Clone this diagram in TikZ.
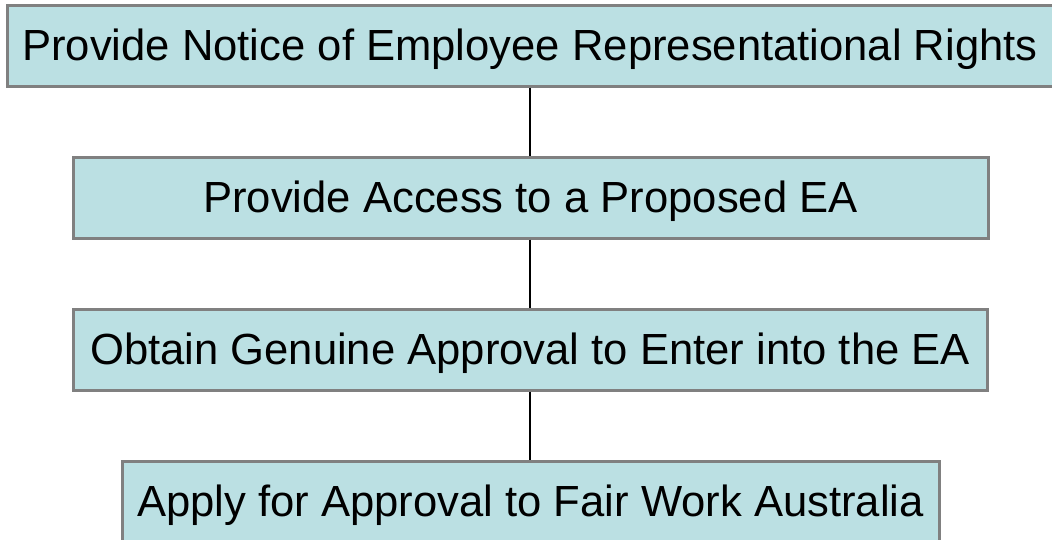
\documentclass[tikz,border=0pt]{standalone}
\usepackage{fontspec}
\setmainfont{Liberation Sans}
\definecolor{stepfill}{RGB}{187,224,227}
\definecolor{stepedge}{RGB}{128,128,128}
\begin{document}
\begin{tikzpicture}[x=1pt,y=-1pt,
  stepbox/.style={draw=stepedge,line width=3pt,fill=stepfill,
    inner sep=0pt,minimum height=81pt,text height=29pt,text depth=0pt,
    font=\fontsize{43.6}{50}\selectfont,text=black},
  link/.style={draw=black,line width=2.5pt}]
  \useasboundingbox (0,0) rectangle (1052,539);
  \clip (0,0) rectangle (1052,539);
  \node[stepbox,minimum width=1046pt] (s1) at (530,45.5)
    {Provide Notice of Employee Representational Rights};
  \node[stepbox,minimum width=915pt] (s2) at (530.5,197.5)
    {Provide Access to a Proposed EA};
  \node[stepbox,minimum width=914pt] (s3) at (530,349.5)
    {Obtain Genuine Approval to Enter into the EA};
  \node[stepbox,minimum width=817pt] (s4) at (530.5,501.5)
    {Apply for Approval to Fair Work Australia};
  \draw[link] (s1.south -| 530,0) -- (s2.north -| 530,0);
  \draw[link] (s2.south -| 530,0) -- (s3.north -| 530,0);
  \draw[link] (s3.south -| 530,0) -- (s4.north -| 530,0);
\end{tikzpicture}
\end{document}
